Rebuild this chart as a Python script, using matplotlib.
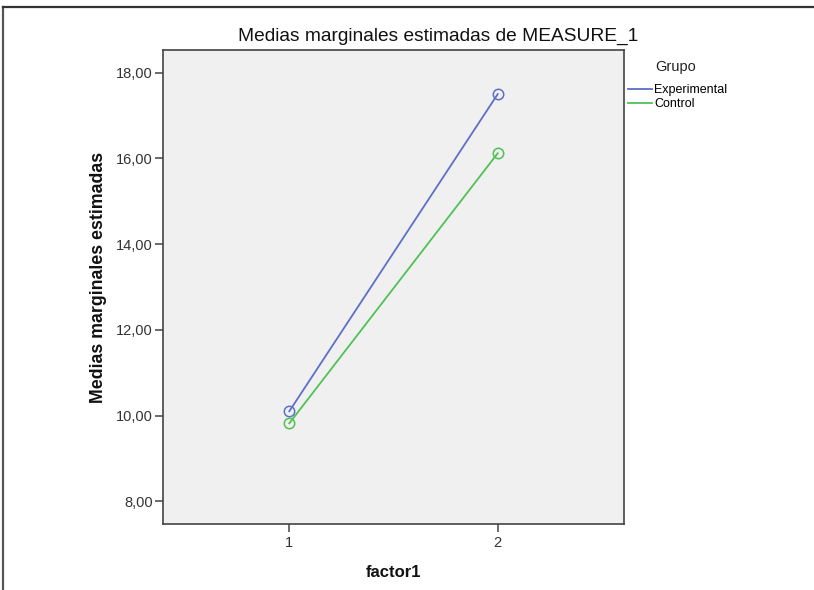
import matplotlib
matplotlib.use("Agg")
import matplotlib.pyplot as plt
from matplotlib.lines import Line2D

plt.rcParams['font.family'] = ['Liberation Sans', 'DejaVu Sans']

factor_levels = [1, 2]
groups = ["Experimental", "Control"]
experimental = [10.10, 17.50]
control = [9.82, 16.12]
colors = ["#5E6FC8", "#4FC254"]
y_ticks = [8, 10, 12, 14, 16, 18]
y_tick_labels = ["8,00", "10,00", "12,00", "14,00", "16,00", "18,00"]

W, H = 814, 590
fig = plt.figure(figsize=(W / 100, H / 100), dpi=100)
fig.patch.set_facecolor("white")

# outer frame (left and top edges visible)
fig.add_artist(Line2D([3 / W, 3 / W], [0, 1 - 7 / H], transform=fig.transFigure,
                      color="#555555", lw=1.6))
fig.add_artist(Line2D([3 / W, 1], [1 - 7 / H, 1 - 7 / H], transform=fig.transFigure,
                      color="#333333", lw=1.6))

ax = fig.add_axes([163 / W, 1 - 524 / H, (624 - 163) / W, (524 - 50) / H])
ax.set_facecolor("#F0F0F0")

for vals, name, c in zip([experimental, control], groups, colors):
    ax.plot(factor_levels, vals, color=c, lw=1.3, marker="o", markersize=7.5,
            markerfacecolor="none", markeredgecolor=c, markeredgewidth=1.1,
            label=name)

ax.set_xlim(0.394, 2.606)
ax.set_ylim(7.47, 18.53)
ax.set_xticks(factor_levels)
ax.set_xticklabels([str(v) for v in factor_levels])
ax.set_yticks(y_ticks)
ax.set_yticklabels(y_tick_labels)

for s in ax.spines.values():
    s.set_color("#444444")
    s.set_linewidth(1.2)

ax.tick_params(axis="both", direction="out", length=5.5, width=1.1, color="#444444",
               labelsize=10.5, labelcolor="#333333", pad=2)
ax.tick_params(axis="x", pad=3)

fig.text(438 / W, 1 - 36 / H, "Medias marginales estimadas de MEASURE_1",
         fontsize=13.8, color="#111111", ha="center", va="center")
ax.set_xlabel("factor1", fontsize=12, fontweight="bold", color="#111111", labelpad=11)
ax.set_ylabel("Medias marginales estimadas", fontsize=12.8, fontweight="bold",
              color="#111111", labelpad=6)
ax.yaxis.label.set_y(0.521)

fig.text(676 / W, 1 - 67 / H, "Grupo", fontsize=10.5, color="#222222",
         ha="center", va="center")
handles = [Line2D([0], [0], color=c, lw=1.3) for c in colors]
leg = fig.legend(handles, groups, loc="upper left",
                 bbox_to_anchor=(628 / W, 1 - 84 / H), frameon=False,
                 fontsize=9, handlelength=1.9,
                 handletextpad=0.2, labelspacing=0.15, borderaxespad=0,
                 borderpad=0)

fig.savefig("out.png", dpi=100)
